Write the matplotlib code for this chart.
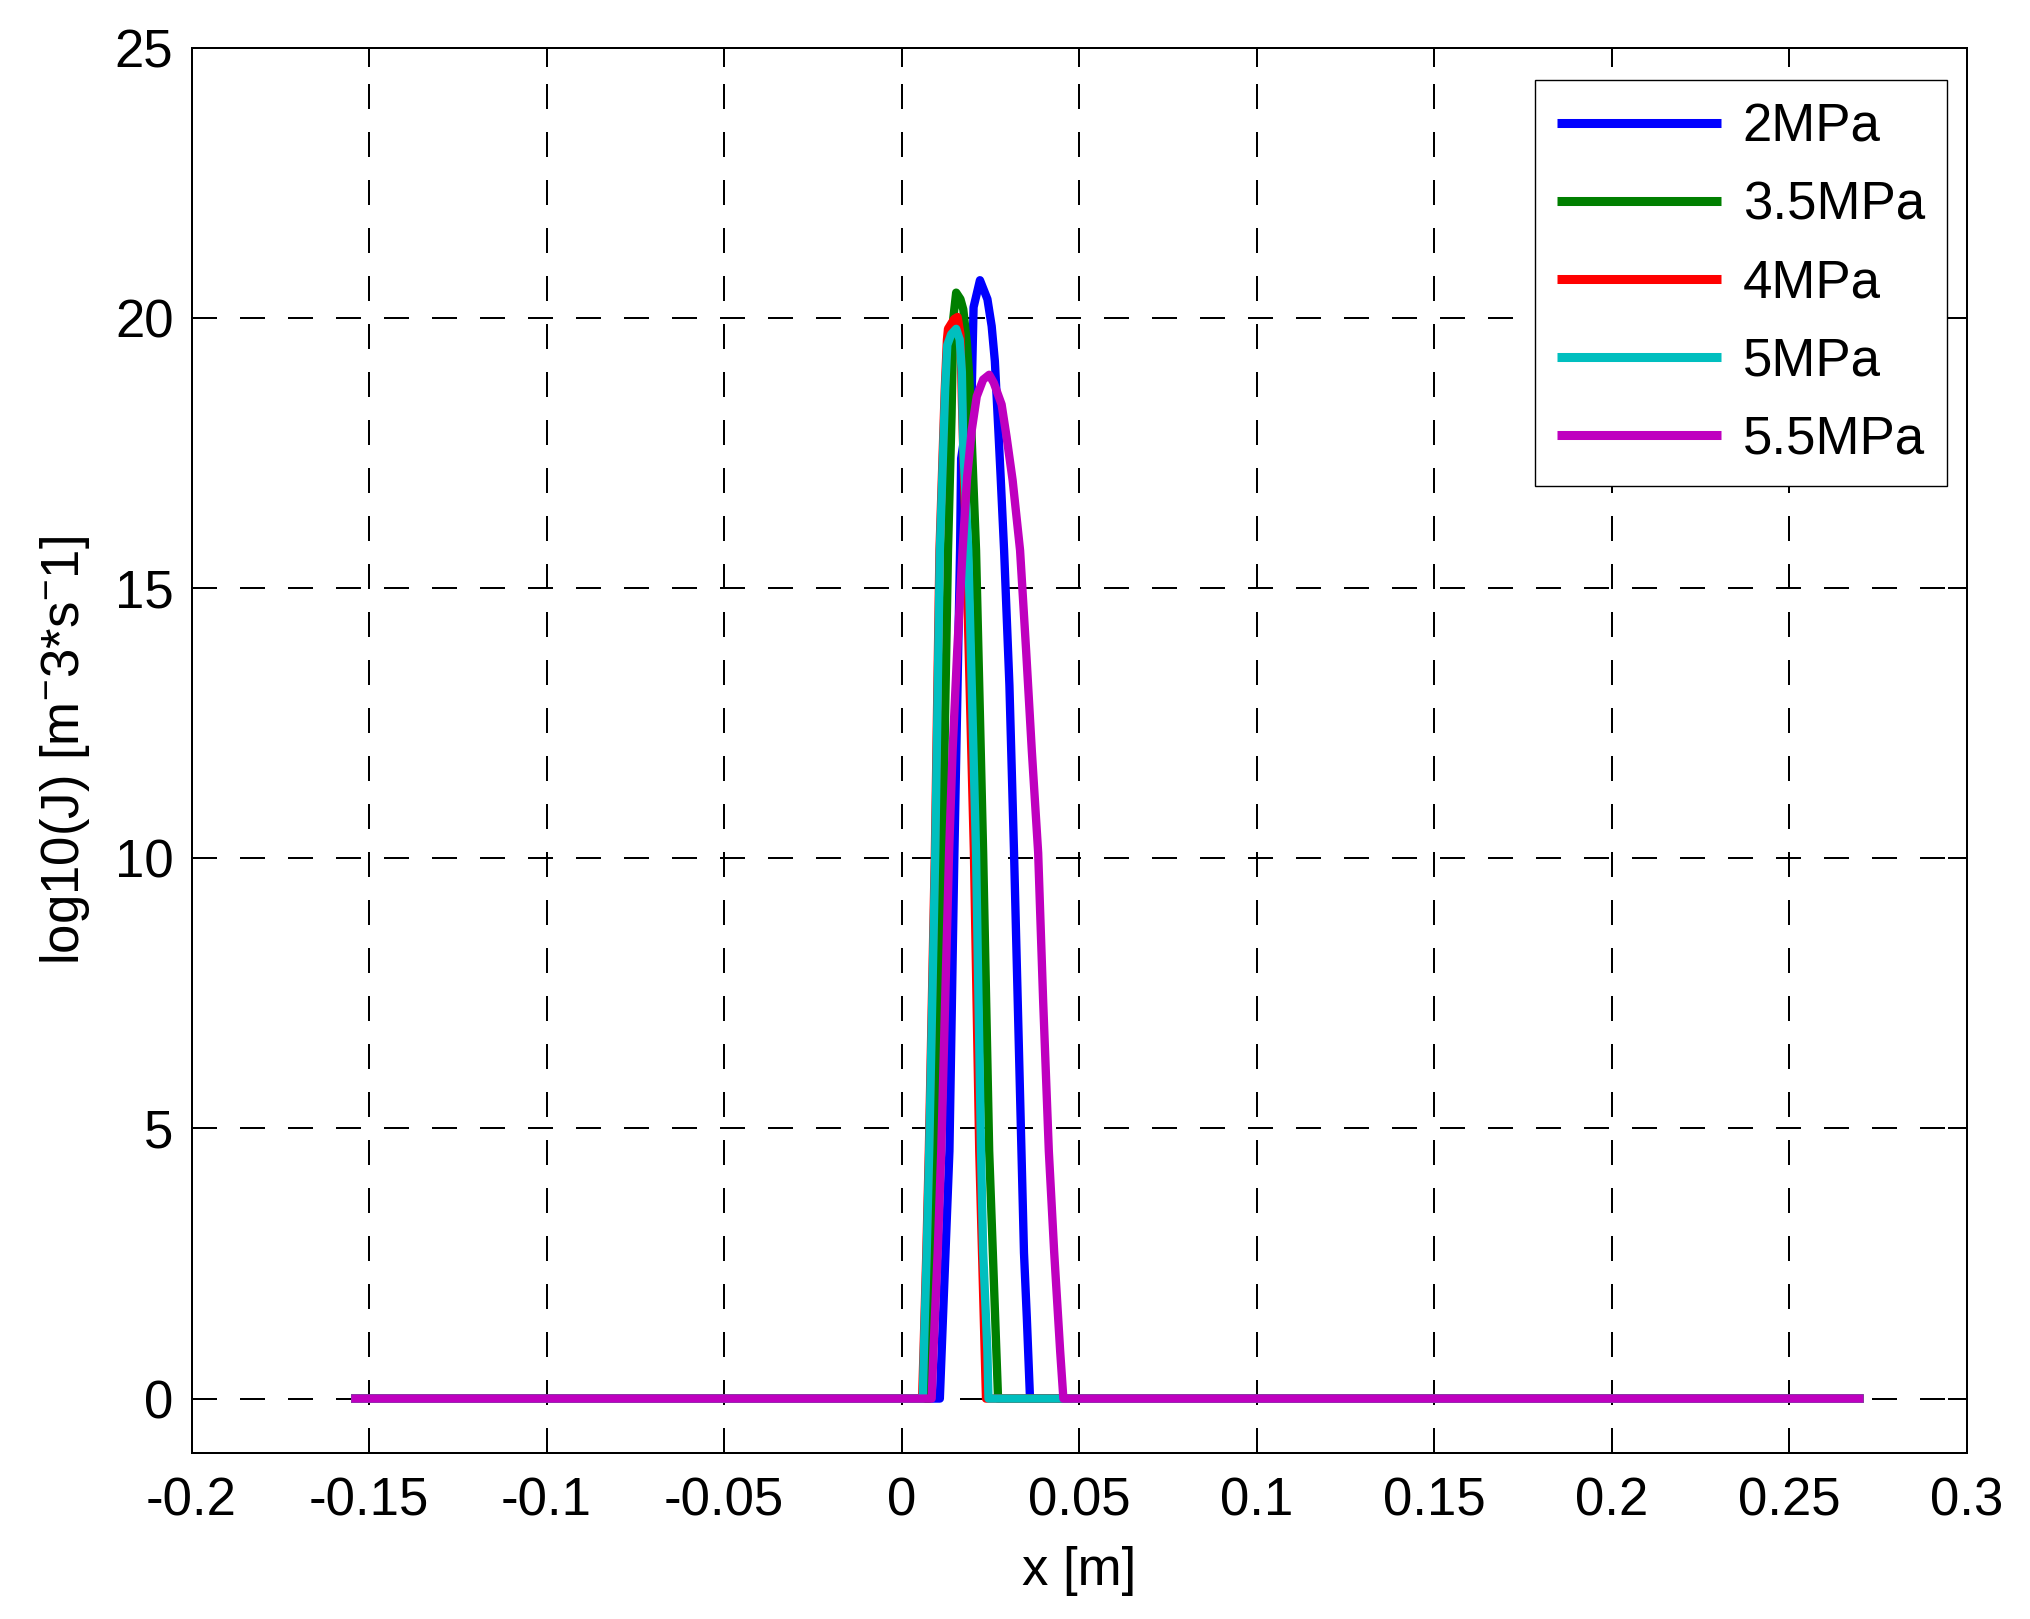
import matplotlib
matplotlib.use("Agg")
import matplotlib.pyplot as plt

plt.rcParams['font.family'] = ['Liberation Sans', 'DejaVu Sans']
plt.rcParams['mathtext.fontset'] = 'custom'
plt.rcParams['mathtext.rm'] = 'Liberation Sans'
plt.rcParams['mathtext.it'] = 'Liberation Sans'

labels = ['2MPa', '3.5MPa', '4MPa', '5MPa', '5.5MPa']
colors = ['#0000ff', '#007f00', '#ff0000', '#00bfbf', '#bf00bf']

x_2 = [-0.155, 0.0108, 0.0135, 0.0149, 0.0165, 0.0168, 0.0198, 0.0203, 0.0221, 0.0242, 0.0254,
       0.0263, 0.0273, 0.0279, 0.0289, 0.0304, 0.0317, 0.0331, 0.0345, 0.0353, 0.0362, 0.271]
y_2 = [0, 0, 4.58, 10.1, 15.7, 17.4, 18.7, 20.2, 20.7, 20.35, 19.85,
       19.2, 17.9, 17.1, 15.7, 13.2, 10.1, 6.4, 2.7, 1.5, 0, 0]

x_35 = [-0.155, 0.0078, 0.0085, 0.0097, 0.0116, 0.0131, 0.0141, 0.0146, 0.0154, 0.0166, 0.0174,
        0.0184, 0.0191, 0.0210, 0.0230, 0.0247, 0.0272, 0.271]
y_35 = [0, 0, 1.5, 4.58, 10.1, 15.7, 18.2, 20.0, 20.47, 20.35, 20.16,
        19.55, 18.9, 15.7, 10.1, 4.58, 0, 0]

x_4 = [-0.155, 0.0058, 0.0062, 0.0070, 0.0077, 0.0094, 0.0107, 0.0122, 0.0128, 0.0131, 0.0148,
       0.0158, 0.0166, 0.0170, 0.0182, 0.0204, 0.0219, 0.0238, 0.271]
y_4 = [0, 0, 0.87, 2.72, 4.58, 10.1, 15.7, 18.7, 19.6, 19.8, 19.98,
       20.02, 19.7, 18.5, 15.7, 10.1, 4.58, 0, 0]

x_5 = [-0.155, 0.0060, 0.0063, 0.0071, 0.0078, 0.0095, 0.0108, 0.0123, 0.0129, 0.0140, 0.0154,
       0.0164, 0.0170, 0.0174, 0.0188, 0.0210, 0.0224, 0.0230, 0.0242, 0.0245, 0.271]
y_5 = [0, 0, 0.87, 2.72, 4.58, 10.1, 15.7, 18.7, 19.5, 19.7, 19.8,
       19.6, 19.0, 17.6, 15.7, 10.1, 4.58, 2.72, 0.87, 0, 0]

x_55 = [-0.155, 0.0085, 0.0090, 0.0102, 0.0112, 0.0123, 0.0134, 0.0144, 0.0157, 0.0172, 0.0185,
        0.0198, 0.0212, 0.0230, 0.0247, 0.0260, 0.0282, 0.0296, 0.0313, 0.0334, 0.0351,
        0.0367, 0.0385, 0.0399, 0.0415, 0.0430, 0.0447, 0.0456, 0.271]
y_55 = [0, 0, 0.87, 2.72, 4.58, 7.36, 10.1, 12.0, 13.85, 15.7, 17.07,
        17.93, 18.55, 18.86, 18.95, 18.8, 18.4, 17.8, 17.0, 15.7, 13.85,
        12.0, 10.1, 7.36, 4.58, 2.72, 0.87, 0, 0]

xs = [x_2, x_35, x_4, x_5, x_55]
ys = [y_2, y_35, y_4, y_5, y_55]

xticks = [-0.2, -0.15, -0.1, -0.05, 0, 0.05, 0.1, 0.15, 0.2, 0.25, 0.3]
xticklabels = ['-0.2', '-0.15', '-0.1', '-0.05', '0', '0.05', '0.1', '0.15', '0.2', '0.25', '0.3']
yticks = [0, 5, 10, 15, 20, 25]
yticklabels = ['0', '5', '10', '15', '20', '25']

W, H = 2030, 1619
fig = plt.figure(figsize=(W / 100, H / 100), dpi=100)
ax = fig.add_axes([191.5 / W, 1 - 1452.6 / H, (1966.5 - 191.5) / W, (1452.6 - 47.9) / H])

for x, y, c, lab in zip(xs, ys, colors, labels):
    ax.plot(x, y, color=c, lw=6.0, label=lab, solid_capstyle='butt', solid_joinstyle='round')

ax.set_xlim(-0.2, 0.3)
ax.set_ylim(-1, 25)
ax.set_xticks(xticks)
ax.set_xticklabels(xticklabels)
ax.set_yticks(yticks)
ax.set_yticklabels(yticklabels)

ax.grid(True, color='black', lw=1.44, linestyle=(0, (12.5, 11.5)))
ax.set_axisbelow(True)
for s in ax.spines.values():
    s.set_linewidth(1.44)
ax.tick_params(direction='in', length=14, width=1.44, top=True, right=True,
               labelsize=38)
ax.tick_params(axis='x', pad=17)
ax.tick_params(axis='y', pad=13)

ax.set_xlabel('x [m]', fontsize=38, labelpad=14)
ax.set_ylabel('log10(J) [m$^{-}$3*s$^{-}$1]', fontsize=38, labelpad=16)

leg = ax.legend(loc='upper right', bbox_to_anchor=(0.989, 0.9771), fontsize=38,
                handlelength=3.1, handletextpad=0.42, labelspacing=0.53,
                borderpad=0.42, borderaxespad=0, fancybox=False, framealpha=1,
                edgecolor='black')
leg.get_frame().set_linewidth(1.0)
for h in leg.get_lines():
    h.set_linewidth(6.5)

fig.savefig('out.png', dpi=100)
